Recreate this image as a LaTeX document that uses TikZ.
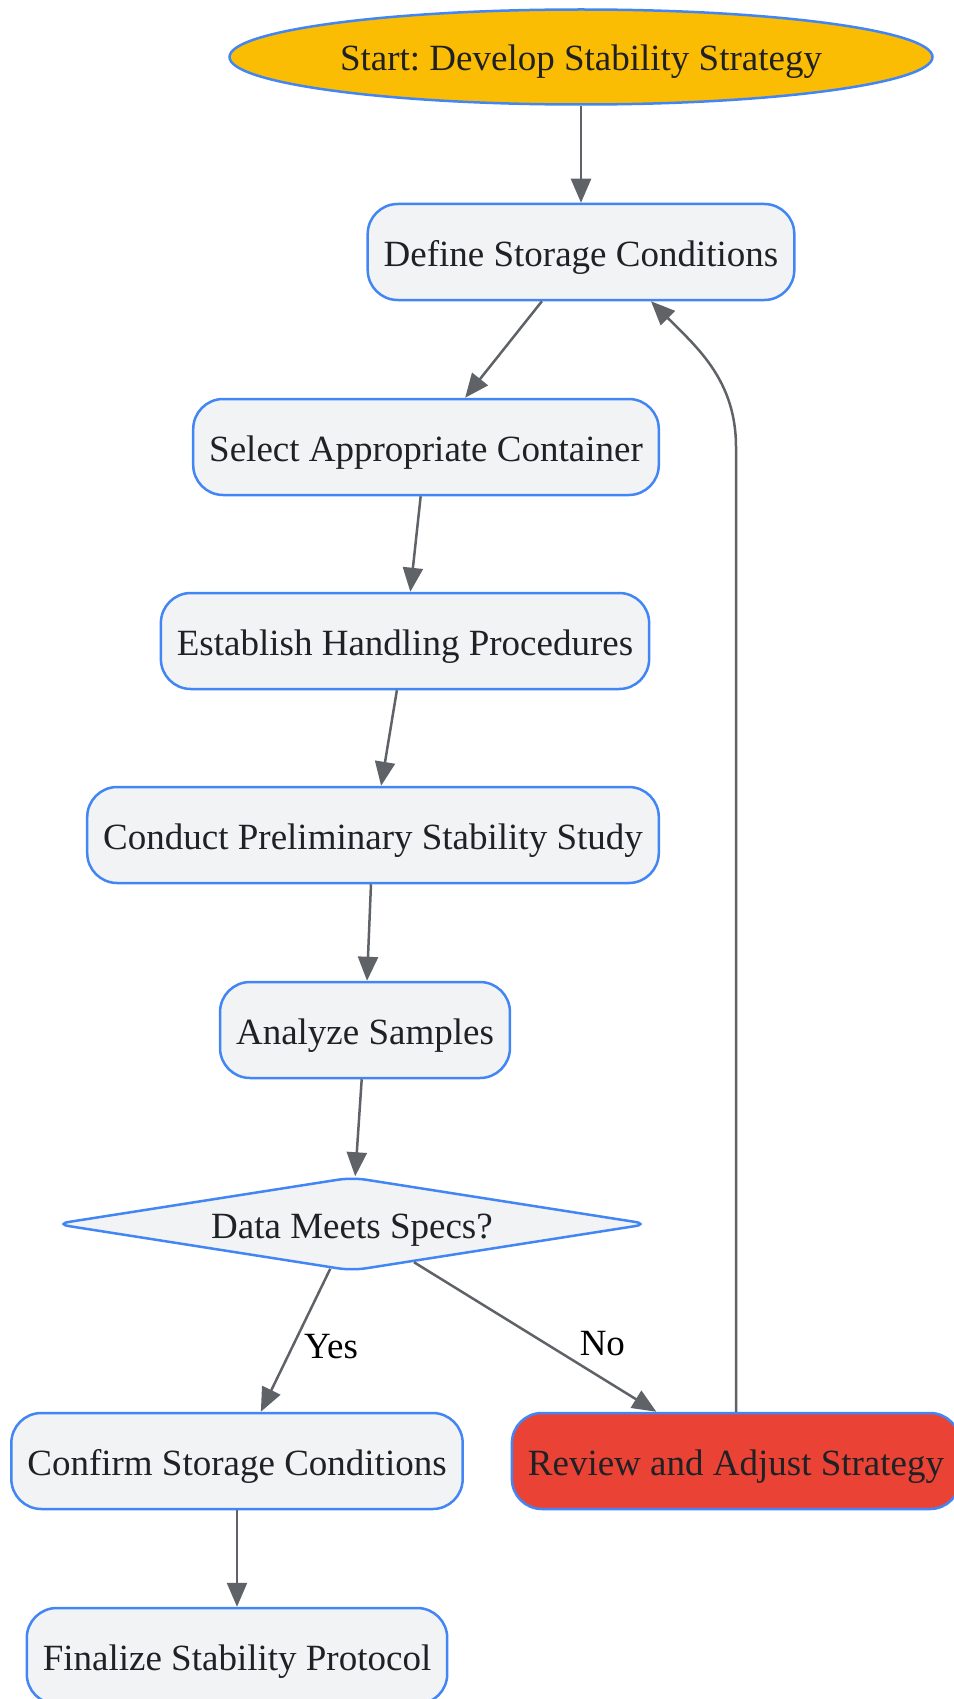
\documentclass[tikz,border=0pt]{standalone}
\usepackage{fontspec}
\setmainfont{Liberation Serif}
\usepackage{tikz}
\usetikzlibrary{shapes.geometric, arrows.meta}
\definecolor{boxfill}{HTML}{F1F3F4}
\definecolor{boxline}{HTML}{4285F4}
\definecolor{edgegray}{HTML}{5F6368}
\definecolor{textdark}{HTML}{202124}
\definecolor{startyellow}{HTML}{FBBC04}
\definecolor{adjustred}{HTML}{EA4335}
\frenchspacing
\tikzstyle{startnode} =
[ellipse, minimum width = 703pt, minimum height = 95pt, inner sep = 0pt,
text height = 36pt, text depth = 8pt,
text centered, draw=boxline, line width = 2.5pt, fill=startyellow,
text=textdark, font=\fontsize{37pt}{44pt}\selectfont]
\tikzstyle{proc} =
[rectangle, rounded corners = 30pt, minimum height = 96pt, inner xsep = 16pt,
text height = 36pt, text depth = 8pt,
text centered, draw=boxline, line width = 2.5pt, fill=boxfill,
text=textdark, font=\fontsize{37pt}{44pt}\selectfont]
\tikzstyle{adjust} =
[proc, fill=adjustred]
\tikzstyle{check} =
[diamond, aspect = 6.4, rounded corners = 14pt, minimum width = 594pt,
minimum height = 94pt, inner sep = 0pt, text height = 36pt, text depth = 8pt,
text centered, draw=boxline,
line width = 2.5pt, fill=boxfill, text=textdark,
font=\fontsize{37pt}{44pt}\selectfont]
\tikzstyle{edgelabel} =
[text=black, text height = 36pt, text depth = 8pt, yshift = -4pt,
font=\fontsize{37pt}{44pt}\selectfont]
\tikzstyle{line} = [draw=edgegray, line width = 2.5pt,
-{Triangle[length=24pt, width=20pt]}]
\begin{document}
\begin{tikzpicture}[node distance = 195pt, auto]
  \useasboundingbox (0,0) rectangle (953pt,-1699pt);
  % main column
  \node [startnode] at (581pt,-57pt) (start) {Start: Develop Stability Strategy};
  \node [proc, below of=start] (define) {Define Storage Conditions};
  \node [proc, below of=define, xshift=-155pt] (select)
   {Select Appropriate Container};
  \node [proc, below of=select, node distance=194pt, xshift=-21pt] (handling)
   {Establish Handling Procedures};
  \node [proc, below of=handling, node distance=194pt, xshift=-32pt] (study)
   {Conduct Preliminary Stability Study};
  \node [proc, below of=study, xshift=-8pt] (analyze) {Analyze Samples};
  \node [check, below of=analyze, node distance=194pt, xshift=-13pt] (specs)
   {Data Meets Specs?};
  % branches
  \node [proc, below of=specs, node distance=237pt, xshift=-115pt] (confirm)
   {Confirm Storage Conditions};
  \node [adjust, right of=confirm, node distance=499pt] (review)
   {Review and Adjust Strategy};
  \node [proc, below of=confirm] (finalize) {Finalize Stability Protocol};
  % edges
  \path [line] (start) -- (define);
  \path [line] (define) -- (select);
  \path [line] (select) -- (handling);
  \path [line] (handling) -- (study);
  \path [line] (study) -- (analyze);
  \path [line] (analyze) -- (specs);
  \path [line] (specs) -- node [edgelabel, right=4pt] {Yes} (confirm);
  \path [line] (specs) -- node [edgelabel, right=40pt] {No} (review);
  \path [line] (confirm) -- (finalize);
  % loop back
  \path [line] (review.north) -- (review.north |- select.center)
   to[out=90, in=-45] ([xshift=70pt]define.south);
\end{tikzpicture}
\end{document}
